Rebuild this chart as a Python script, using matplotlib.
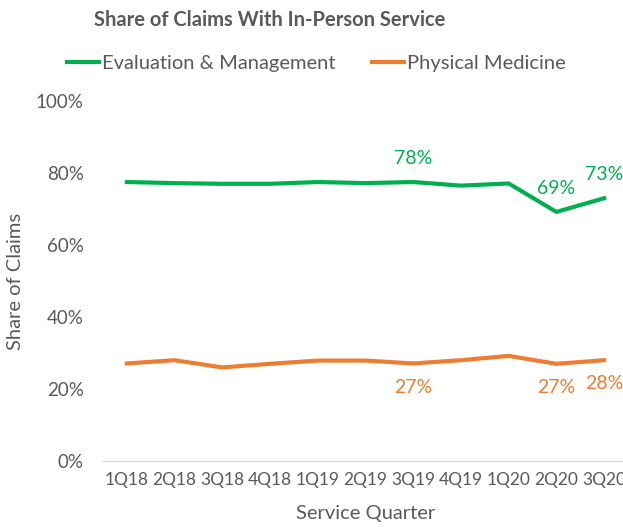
import numpy as np
import matplotlib.pyplot as plt

plt.rcParams['font.family'] = ['Lato', 'DejaVu Sans']

quarters = ['1Q18', '2Q18', '3Q18', '4Q18', '1Q19', '2Q19',
            '3Q19', '4Q19', '1Q20', '2Q20', '3Q20']
eval_mgmt = [0.775, 0.772, 0.770, 0.770, 0.775, 0.772,
             0.775, 0.765, 0.771, 0.692, 0.730]
phys_med = [0.271, 0.280, 0.260, 0.270, 0.279, 0.279,
            0.271, 0.280, 0.292, 0.270, 0.280]

# which points get a data label
eval_labels = {6: '78%', 9: '69%', 10: '73%'}
phys_labels = {6: '27%', 9: '27%', 10: '28%'}

green = '#00B050'
orange = '#ED7D31'
grey = '#595959'

fig = plt.figure(figsize=(6.23, 5.27), dpi=100)
ax = fig.add_axes([0.1653, 0.1252, 0.8427, 0.6831])

x = np.arange(len(quarters))
ax.plot(x, eval_mgmt, color=green, lw=3, label='Evaluation & Management',
        solid_joinstyle='round')
ax.plot(x, phys_med, color=orange, lw=3, label='Physical Medicine',
        solid_joinstyle='round')

for i, t in eval_labels.items():
    ax.annotate(t, (x[i], eval_mgmt[i]), xytext=(0, 17), textcoords='offset points',
                ha='center', va='center', color=green, fontsize=14)
for i, t in phys_labels.items():
    ax.annotate(t, (x[i], phys_med[i]), xytext=(0, -17), textcoords='offset points',
                ha='center', va='center', color=orange, fontsize=14)

ax.set_xlim(-0.5, len(quarters) - 0.5)
ax.set_ylim(0, 1)
ax.set_xticks(x)
ax.set_xticklabels(quarters)
ax.set_yticks(np.arange(0, 1.01, 0.2))
ax.set_yticklabels(['%d%%' % v for v in range(0, 101, 20)])
ax.tick_params(length=0, colors=grey)
ax.tick_params(axis='x', pad=8, labelsize=12.5)
ax.tick_params(axis='y', pad=14, labelsize=13.5)

for s in ['top', 'right', 'left']:
    ax.spines[s].set_visible(False)
ax.spines['bottom'].set_color('#D9D9D9')
ax.spines['bottom'].set_linewidth(1)

ax.set_xlabel('Service Quarter', fontsize=14.5, color=grey)
ax.xaxis.set_label_coords(0.5, -0.122)
ax.set_ylabel('Share of Claims', fontsize=14.5, color=grey)
ax.yaxis.set_label_coords(-0.15, 0.5)

fig.text(0.433, 0.962, 'Share of Claims With In-Person Service', ha='center',
         va='center', fontsize=14.5, fontweight='bold', color=grey)
fig.legend(loc='center', bbox_to_anchor=(0.508, 0.88), ncol=2, frameon=False,
           fontsize=14.5, labelcolor=grey, handlelength=1.6, handletextpad=0.15,
           columnspacing=1.8)

fig.savefig('out.png', dpi=100)
